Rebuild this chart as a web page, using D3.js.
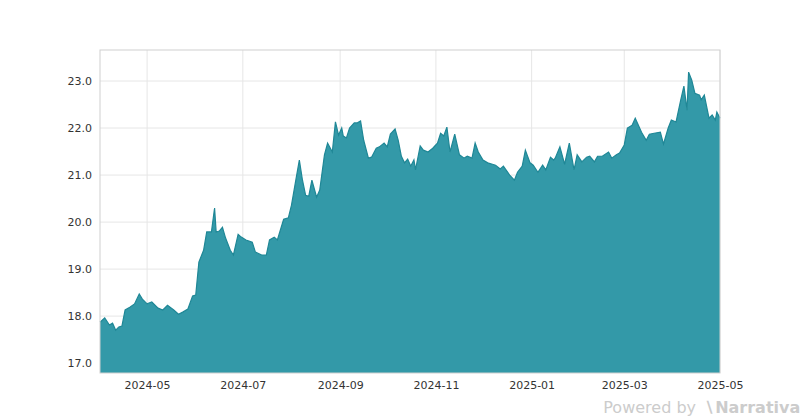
<!DOCTYPE html>
<html>
<head>
<meta charset="utf-8">
<script src="https://d3js.org/d3.v7.min.js"></script>
<style>
  body { margin: 0; background: #fff; font-family: "DejaVu Sans", sans-serif; }
</style>
</head>
<body>
<div id="chart"></div>
<script>
// price series
const dates = ["2024-04-01","2024-04-04","2024-04-07","2024-04-09","2024-04-11","2024-04-13","2024-04-15","2024-04-17","2024-04-20","2024-04-23","2024-04-26","2024-04-28","2024-05-01","2024-05-04","2024-05-08","2024-05-11","2024-05-14","2024-05-18","2024-05-21","2024-05-24","2024-05-27","2024-05-30","2024-06-01","2024-06-03","2024-06-06","2024-06-08","2024-06-11","2024-06-13","2024-06-14","2024-06-16","2024-06-18","2024-06-20","2024-06-23","2024-06-25","2024-06-28","2024-06-30","2024-07-03","2024-07-07","2024-07-09","2024-07-13","2024-07-16","2024-07-18","2024-07-21","2024-07-23","2024-07-27","2024-07-30","2024-08-01","2024-08-04","2024-08-06","2024-08-08","2024-08-10","2024-08-12","2024-08-14","2024-08-17","2024-08-19","2024-08-22","2024-08-24","2024-08-27","2024-08-29","2024-08-31","2024-09-02","2024-09-03","2024-09-05","2024-09-07","2024-09-10","2024-09-12","2024-09-14","2024-09-16","2024-09-19","2024-09-21","2024-09-24","2024-09-26","2024-09-29","2024-10-01","2024-10-03","2024-10-06","2024-10-08","2024-10-10","2024-10-12","2024-10-14","2024-10-16","2024-10-18","2024-10-19","2024-10-22","2024-10-24","2024-10-27","2024-10-30","2024-11-02","2024-11-04","2024-11-06","2024-11-08","2024-11-10","2024-11-13","2024-11-16","2024-11-19","2024-11-21","2024-11-24","2024-11-26","2024-11-28","2024-12-01","2024-12-04","2024-12-07","2024-12-09","2024-12-12","2024-12-14","2024-12-18","2024-12-21","2024-12-23","2024-12-26","2024-12-28","2024-12-31","2025-01-02","2025-01-05","2025-01-08","2025-01-10","2025-01-13","2025-01-15","2025-01-16","2025-01-19","2025-01-22","2025-01-25","2025-01-28","2025-01-30","2025-02-02","2025-02-05","2025-02-07","2025-02-10","2025-02-12","2025-02-15","2025-02-19","2025-02-21","2025-02-24","2025-02-26","2025-03-01","2025-03-03","2025-03-06","2025-03-08","2025-03-12","2025-03-15","2025-03-17","2025-03-20","2025-03-24","2025-03-26","2025-03-29","2025-03-31","2025-04-03","2025-04-06","2025-04-08","2025-04-10","2025-04-11","2025-04-13","2025-04-15","2025-04-18","2025-04-19","2025-04-21","2025-04-24","2025-04-26","2025-04-28","2025-04-29","2025-05-01"];
const prices = [17.87,17.96,17.81,17.85,17.70,17.77,17.79,18.13,18.19,18.26,18.47,18.36,18.26,18.30,18.17,18.13,18.23,18.13,18.04,18.09,18.15,18.43,18.45,19.15,19.40,19.79,19.79,20.30,19.79,19.81,19.89,19.66,19.40,19.30,19.74,19.68,19.62,19.57,19.36,19.30,19.30,19.62,19.68,19.62,20.06,20.09,20.36,20.94,21.32,20.89,20.57,20.55,20.89,20.53,20.68,21.43,21.68,21.49,22.13,21.85,22.00,21.83,21.79,22.00,22.11,22.11,22.15,21.74,21.36,21.38,21.57,21.60,21.68,21.60,21.87,21.98,21.74,21.40,21.26,21.34,21.19,21.32,21.11,21.62,21.53,21.49,21.57,21.68,21.89,21.83,22.02,21.49,21.87,21.43,21.36,21.40,21.36,21.68,21.49,21.32,21.26,21.23,21.21,21.13,21.19,21.00,20.89,21.06,21.19,21.53,21.26,21.21,21.06,21.21,21.11,21.38,21.32,21.36,21.60,21.23,21.68,21.11,21.43,21.28,21.38,21.40,21.28,21.40,21.40,21.49,21.36,21.43,21.47,21.64,22.00,22.06,22.21,21.91,21.74,21.87,21.89,21.91,21.66,22.00,22.17,22.13,22.60,22.89,22.38,23.19,23.02,22.74,22.70,22.60,22.70,22.21,22.28,22.17,22.34,22.21];
const yTicks = [17, 18, 19, 20, 21, 22, 23];
const xTicks = ["2024-05-01","2024-07-01","2024-09-01","2024-11-01","2025-01-01","2025-03-01","2025-05-01"];

const W = 800, H = 420;
const margin = {top: 50, right: 80, bottom: 47, left: 100};
const parse = d3.timeParse("%Y-%m-%d");
const data = dates.map((d, i) => ({date: parse(d), value: prices[i]}));

const svg = d3.select("#chart").append("svg").attr("width", W).attr("height", H);

const x = d3.scaleTime()
    .domain([parse("2024-04-01"), parse("2025-05-01")])
    .range([margin.left, W - margin.right]);
const y = d3.scaleLinear()
    .domain([16.79, 23.66])
    .range([H - margin.bottom, margin.top]);

// grid
svg.append("g").selectAll("line").data(yTicks).join("line")
    .attr("x1", margin.left).attr("x2", W - margin.right)
    .attr("y1", d => y(d)).attr("y2", d => y(d))
    .attr("stroke", "#e6e6e6");
svg.append("g").selectAll("line").data(xTicks).join("line")
    .attr("x1", d => x(parse(d))).attr("x2", d => x(parse(d)))
    .attr("y1", margin.top).attr("y2", H - margin.bottom)
    .attr("stroke", "#e6e6e6");

// area
const area = d3.area().x(d => x(d.date)).y0(y.range()[0]).y1(d => y(d.value));
const line = d3.line().x(d => x(d.date)).y(d => y(d.value));
svg.append("path").datum(data).attr("d", area).attr("fill", "#3399a8");
svg.append("path").datum(data).attr("d", line)
    .attr("fill", "none").attr("stroke", "#1f8796").attr("stroke-width", 1.2);

// frame
svg.append("rect")
    .attr("x", margin.left).attr("y", margin.top)
    .attr("width", W - margin.left - margin.right)
    .attr("height", H - margin.top - margin.bottom)
    .attr("fill", "none").attr("stroke", "#d0d0d0");

// axes
const yAxis = svg.append("g").attr("transform", `translate(${margin.left},0)`)
    .call(d3.axisLeft(y).tickValues(yTicks).tickSize(0).tickPadding(8));
const xAxis = svg.append("g").attr("transform", `translate(0,${H - margin.bottom})`)
    .call(d3.axisBottom(x).tickValues(xTicks.map(parse)).tickFormat(d3.timeFormat("%Y-%m")).tickSize(0).tickPadding(8));
[yAxis, xAxis].forEach(a => {
  a.select(".domain").remove();
  a.selectAll("text").attr("font-size", 11).attr("fill", "#333").attr("font-family", "DejaVu Sans, sans-serif");
});

svg.append("text").attr("x", 696).attr("y", 413).attr("text-anchor", "end")
    .attr("font-size", 16).attr("fill", "#cccccc").text("Powered by");
svg.append("text").attr("x", 704).attr("y", 413)
    .attr("font-size", 16).attr("font-weight", "bold").attr("fill", "#cccccc").text("\u2216Narrativa");
</script>
</body>
</html>
